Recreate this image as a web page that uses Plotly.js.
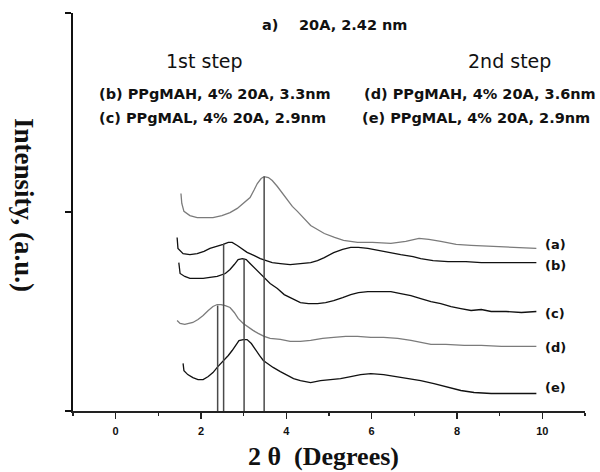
<!DOCTYPE html>
<html>
<head>
<meta charset="utf-8">
<script src="https://cdn.plot.ly/plotly-3.0.1.min.js"></script>
<style>html,body{margin:0;padding:0;background:#fff;}#chart{width:600px;height:472px;}</style>
</head>
<body>
<div id="chart"></div>
<script>
// ---- data ----
const xA = [1.53,1.55,1.60,1.74,1.91,2.09,2.28,2.49,2.68,2.85,3.01,3.15,3.25,3.32,3.41,3.48,3.58,3.67,3.79,3.91,4.02,4.14,4.26,4.42,4.57,4.73,4.89,5.13,5.34,5.67,6.02,6.45,6.80,7.11,7.34,7.62,7.98,8.33,8.80,9.27,9.86];
const yA = [1.093,1.043,1.003,0.982,0.972,0.972,0.972,0.982,0.997,1.018,1.048,1.073,1.113,1.143,1.168,1.178,1.173,1.158,1.128,1.093,1.063,1.028,1.003,0.967,0.932,0.912,0.892,0.872,0.857,0.847,0.847,0.842,0.852,0.867,0.862,0.852,0.837,0.832,0.827,0.822,0.817];

const xB = [1.44,1.46,1.58,1.74,1.91,2.07,2.21,2.38,2.52,2.64,2.73,2.85,2.97,3.08,3.25,3.39,3.53,3.67,3.86,4.09,4.33,4.57,4.73,4.89,5.11,5.32,5.51,5.69,5.91,6.14,6.40,6.68,6.97,7.15,7.44,7.79,8.21,8.57,9.04,9.51,9.86];
const yB = [0.872,0.817,0.791,0.786,0.791,0.802,0.817,0.827,0.837,0.847,0.847,0.832,0.812,0.797,0.781,0.766,0.756,0.746,0.741,0.736,0.741,0.746,0.756,0.771,0.796,0.812,0.822,0.822,0.817,0.807,0.796,0.786,0.776,0.766,0.756,0.751,0.751,0.746,0.746,0.746,0.746];

const xC = [1.48,1.51,1.62,1.74,1.91,2.05,2.21,2.38,2.57,2.68,2.78,2.87,2.97,3.06,3.15,3.27,3.39,3.51,3.62,3.79,3.95,4.14,4.33,4.52,4.73,4.92,5.11,5.32,5.51,5.69,5.91,6.17,6.45,6.68,6.92,7.15,7.39,7.62,7.86,8.09,8.33,8.57,8.80,9.15,9.51,9.86];
const yC = [0.746,0.691,0.676,0.666,0.666,0.666,0.671,0.676,0.691,0.711,0.736,0.761,0.766,0.761,0.741,0.716,0.691,0.666,0.641,0.616,0.585,0.565,0.545,0.540,0.540,0.545,0.555,0.570,0.585,0.595,0.600,0.600,0.600,0.590,0.580,0.565,0.550,0.540,0.525,0.515,0.505,0.510,0.500,0.500,0.495,0.500];

const xD = [1.44,1.51,1.62,1.81,1.93,2.05,2.17,2.28,2.38,2.47,2.57,2.68,2.78,2.87,2.99,3.11,3.22,3.34,3.48,3.62,3.86,4.09,4.33,4.57,4.85,5.11,5.39,5.67,5.98,6.28,6.61,6.92,7.15,7.39,7.74,8.17,8.57,9.04,9.51,9.86];
const yD = [0.455,0.440,0.435,0.445,0.460,0.480,0.505,0.525,0.535,0.535,0.530,0.520,0.495,0.465,0.440,0.420,0.405,0.390,0.375,0.365,0.360,0.350,0.350,0.355,0.365,0.370,0.375,0.375,0.370,0.370,0.365,0.355,0.345,0.335,0.335,0.330,0.330,0.325,0.325,0.325];

const xE = [1.58,1.60,1.69,1.81,1.93,2.05,2.17,2.28,2.40,2.52,2.64,2.73,2.82,2.89,2.99,3.08,3.18,3.27,3.37,3.46,3.58,3.69,3.86,4.02,4.17,4.33,4.57,4.80,5.04,5.27,5.51,5.74,5.98,6.28,6.57,6.87,7.15,7.46,7.79,8.09,8.40,8.80,9.27,9.86];
const yE = [0.239,0.203,0.183,0.168,0.158,0.158,0.173,0.193,0.224,0.249,0.279,0.304,0.334,0.354,0.359,0.359,0.339,0.309,0.279,0.254,0.234,0.219,0.198,0.178,0.163,0.153,0.143,0.153,0.158,0.163,0.173,0.183,0.188,0.183,0.173,0.163,0.153,0.138,0.118,0.103,0.093,0.088,0.088,0.088];

// peak marker lines (2θ position and height where they meet a curve)
const peakX   = [2.39, 2.53, 3.01, 3.48];
const peakTop = [0.53, 0.84, 0.765, 1.178];

const seriesLabels = ['(a)', '(b)', '(c)', '(d)', '(e)'];
const xTickVals = [0, 2, 4, 6, 8, 10];
const xTickText = ['0', '2', '4', '6', '8', '10'];

// ---- build traces ----
const gray = '#7b7b7b', black = '#111111';
const curves = [[xA,yA,gray],[xB,yB,black],[xC,yC,black],[xD,yD,gray],[xE,yE,black]];
const traces = curves.map((c,i) => ({
  x: c[0], y: c[1], type: 'scatter', mode: 'lines', name: seriesLabels[i],
  line: {color: c[2], width: 1.3}, hoverinfo: 'skip'
}));

const lx = [], ly = [];
peakX.forEach((p,i) => { lx.push(p, p, null); ly.push(0, peakTop[i], null); });
traces.push({x: lx, y: ly, type: 'scatter', mode: 'lines', line: {color: '#4a4a4a', width: 1.5}, hoverinfo: 'skip', name: 'peaks'});

const sans = 'DejaVu Sans, sans-serif';
const serif = 'Liberation Serif, Times New Roman, serif';
const annBold = (text, x, y, xa) => ({text: text, xref: 'paper', yref: 'paper', x: x, y: y,
  xanchor: xa || 'left', yanchor: 'middle', showarrow: false,
  font: {family: sans, size: 14.5, color: '#111', weight: 'bold'}});

const labelY = [0.4171, 0.3668, 0.2462, 0.1608, 0.0603];
const annotations = [
  annBold('a)', 0.3652, 0.9698),
  annBold('20A, 2.42 nm', 0.4375, 0.9698),
  {text: '1st step', xref: 'paper', yref: 'paper', x: 0.2568, y: 0.8794, xanchor: 'center', yanchor: 'middle', showarrow: false, font: {family: sans, size: 19, color: '#111'}},
  {text: '2nd step', xref: 'paper', yref: 'paper', x: 0.8525, y: 0.8794, xanchor: 'center', yanchor: 'middle', showarrow: false, font: {family: sans, size: 19, color: '#111'}},
  annBold('(b) PPgMAH, 4% 20A, 3.3nm', 0.0469, 0.7965),
  annBold('(c) PPgMAL, 4% 20A, 2.9nm', 0.0469, 0.7362),
  annBold('(d) PPgMAH, 4% 20A, 3.6nm', 0.5645, 0.7965),
  annBold('(e) PPgMAL, 4% 20A, 2.9nm', 0.5605, 0.7362),
  {text: 'Intensity, (a.u.)', xref: 'paper', yref: 'paper', x: -0.0957, y: 0.5176, xanchor: 'center', yanchor: 'middle', textangle: 90, showarrow: false, font: {family: serif, size: 27, color: '#111', weight: 'bold'}},
  {text: '2 θ  (Degrees)', xref: 'paper', yref: 'paper', x: 0.4902, y: -0.1135, xanchor: 'center', yanchor: 'middle', showarrow: false, font: {family: serif, size: 26, color: '#111', weight: 'bold'}}
];
seriesLabels.forEach((s,i) => {
  const a = annBold(s, 0.918, labelY[i]);
  a.font = {family: sans, size: 13, color: '#111', weight: 'bold'};
  annotations.push(a);
});

const layout = {
  width: 600, height: 472,
  margin: {l: 73, r: 15, t: 13, b: 61, pad: 0},
  paper_bgcolor: '#fff', plot_bgcolor: '#fff',
  showlegend: false,
  xaxis: {
    range: [-1, 11], showgrid: false, zeroline: false,
    showline: true, linecolor: '#222', linewidth: 1.5,
    ticks: 'outside', ticklen: 6, tickwidth: 1.5, tickcolor: '#222',
    tickvals: xTickVals, ticktext: xTickText, ticklabelstandoff: 3,
    tickfont: {family: 'Liberation Sans, Arial, sans-serif', size: 11, color: '#111', weight: 'bold'},
    minor: {dtick: 1, tick0: 1, ticks: 'outside', ticklen: 3, tickwidth: 1.2, tickcolor: '#222', showgrid: false}
  },
  yaxis: {
    range: [0, 2], showgrid: false, zeroline: false,
    showline: true, linecolor: '#111', linewidth: 2,
    ticks: 'outside', ticklen: 6, tickwidth: 2, tickcolor: '#111',
    tickvals: [0, 1, 2], showticklabels: false
  },
  annotations: annotations
};

Plotly.newPlot('chart', traces, layout, {displayModeBar: false, staticPlot: true});
</script>
</body>
</html>
